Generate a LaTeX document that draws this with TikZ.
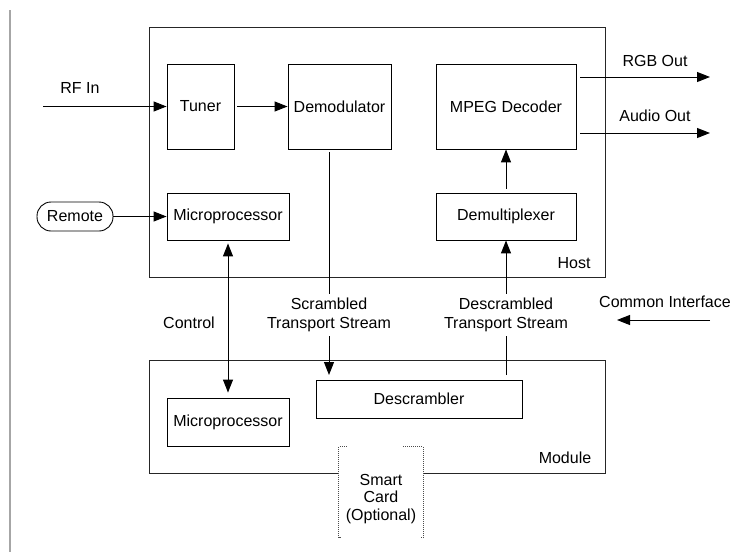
\documentclass[tikz,border=0pt]{standalone}
\usepackage{fontspec}
\setmainfont{Liberation Sans}
\usetikzlibrary{arrows.meta}

\begin{document}
\begin{tikzpicture}[x=1pt, y=-1pt,
  font=\fontsize{16}{19}\selectfont,
  blk/.style={draw, line width=0.9pt, inner sep=2pt},
  frame/.style={draw, line width=1pt, gray!30!black},
  sig/.style={line width=1pt},
  >={Triangle[length=13pt, width=10pt]}]
  \useasboundingbox (0,0) rectangle (734,552);
  % rule on the left of the page
  \draw[gray!70, line width=1.5pt] (10,10) -- (10,552);
  % Host and module frames
  \node[frame, minimum width=456pt, minimum height=250pt] (host) at (377,152) {};
  \node[frame, minimum width=456pt, minimum height=113pt] (module) at (377,416.5) {};
  \node (hostlbl) at (574,263) {Host};
  \node (modlbl) at (565,458) {Module};
  % Blocks
  \node[blk, minimum width=67pt, minimum height=85pt] (tuner) at (200.5,106.5) {Tuner};
  \node[blk, minimum width=103pt, minimum height=85pt] (demod) at (339.5,106.5) {Demodulator};
  \node[blk, minimum width=140pt, minimum height=85pt] (mpeg) at (506,106.5) {MPEG Decoder};
  \node[blk, minimum width=122pt, minimum height=47pt] (hostcpu) at (228,216.5) {Microprocessor};
  \node[blk, minimum width=140pt, minimum height=47pt] (demux) at (506,216.5) {Demultiplexer};
  \node[blk, minimum width=122pt, minimum height=48pt] (modcpu) at (228,422) {Microprocessor};
  \node[blk, minimum width=206pt, minimum height=38pt] (descr) at (419,399) {Descrambler};
  \node[blk, rounded corners=14pt, minimum width=76pt, minimum height=29pt] (remote) at (75,216.5) {Remote};
  % Inputs
  \coordinate (rfin) at (43,106.5);
  \draw[sig, ->] (rfin) -- (tuner.west);
  \node (rflbl) at (80,88) {RF In};
  \draw[sig, ->, shorten <=3pt] (tuner) -- (demod);
  \draw[sig, ->] (remote) -- (hostcpu);
  % Outputs
  \coordinate (rgbend) at (710,77);
  \coordinate (audend) at (710,133);
  \draw[sig, ->, shorten <=4pt] (mpeg.east |- rgbend) -- (rgbend);
  \draw[sig, ->, shorten <=4pt] (mpeg.east |- audend) -- (audend);
  \node (rgblbl) at (655,61) {RGB Out};
  \node (audlbl) at (655,116) {Audio Out};
  \draw[sig, ->, shorten <=4pt] (demux) -- (mpeg);
  % Transport streams
  \coordinate (scrin) at (329,375);
  \draw[sig, ->, shorten <=3pt] (demod.south -| scrin) -- (scrin);
  \node[fill=white, align=center, inner sep=4pt] (scrlbl) at (329,315) {Scrambled\\Transport Stream};
  \coordinate (dscout) at (506,375);
  \draw[sig, ->] (dscout) -- (demux.south);
  \node[fill=white, align=center, inner sep=4pt] (dsclbl) at (506,315) {Descrambled\\Transport Stream};
  % Control
  \draw[sig, <->, shorten <=3pt, shorten >=5pt] (hostcpu) -- (modcpu);
  \node (ctllbl) at (189,323) {Control};
  % Common interface
  \coordinate (cifrom) at (710,320);
  \coordinate (cito) at (617,320);
  \draw[sig, ->] (cifrom) -- (cito);
  \node (cilbl) at (665,302) {Common Interface};
  % Smart card
  \node[fill=white, minimum width=84pt, minimum height=90pt] (card) at (381,492) {};
  \draw[densely dotted, gray!60!black, line width=1pt] ([xshift=8pt]card.north west) -- (card.north west) -- (card.south west) -- ([xshift=3pt]card.south west);
  \draw[densely dotted, gray!60!black, line width=1pt] ([xshift=-20pt]card.north east) -- (card.north east) -- (card.south east) -- ([xshift=-3pt]card.south east);
  \node[align=center, inner sep=0pt, font=\fontsize{16}{17.5}\selectfont] (cardtxt) at (381,499) {Smart\\Card\\(Optional)};
\end{tikzpicture}
\end{document}
